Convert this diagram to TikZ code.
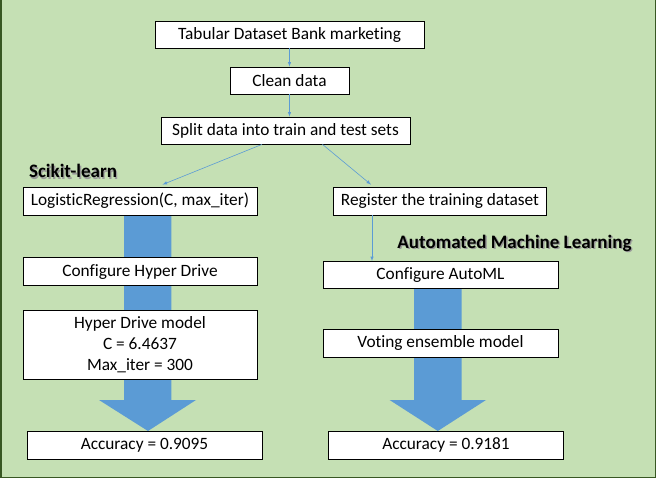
\documentclass[tikz,border=0pt]{standalone}
\usepackage{fontspec}
\setmainfont{Carlito}[Ligatures=NoCommon]
\usetikzlibrary{backgrounds}
\definecolor{bggreen}{HTML}{C5E0B4}
\definecolor{framegreen}{HTML}{385723}
\definecolor{flowblue}{HTML}{5B9BD5}
\newcommand\shadowed[1]{\rlap{\hspace{1.4pt}\raisebox{-1.4pt}{\color{black!40}#1}}#1}

\begin{document}
\begin{tikzpicture}[x=1pt,y=-1pt,
    box/.style={draw,fill=white,line width=0.8pt,inner sep=2pt,minimum height=28pt,
      font=\fontsize{17.3}{21}\selectfont,align=center},
    head/.style={font=\fontsize{19}{22}\selectfont\bfseries},
    flow/.style={flowblue,line width=0.6pt,-latex},
    bigarrow/.style={fill=flowblue}]
    \useasboundingbox (0,0) rectangle (657,479);
    % boxes
    \node[box,minimum width=269pt,minimum height=27pt] (tab) at (289.5,34.5) {Tabular Dataset Bank marketing};
    \node[box,minimum width=119pt,minimum height=27pt] (clean) at (289.5,80.5) {Clean data};
    \node[box,minimum width=249pt,minimum height=27pt] (split) at (285.5,130.5) {Split data into train and test sets};
    \node[box,minimum width=234pt] (lr) at (140,201) {LogisticRegression(C, max\_iter)};
    \node[box,minimum width=213.5pt] (reg) at (440,201) {Register the training dataset};
    \node[box,minimum width=234pt] (hdconf) at (140,271.6) {Configure Hyper Drive};
    \node[box,minimum width=234pt,minimum height=69pt] (hdmodel) at (140,344.5) {Hyper Drive model\\C = 6.4637\\Max\_iter = 300};
    \node[box,minimum width=235pt] (accl) at (144.5,445) {Accuracy = 0.9095};
    \node[box,minimum width=235pt,minimum height=27pt] (amlconf) at (440.5,275) {Configure AutoML};
    \node[box,minimum width=235pt] (vote) at (440.5,343) {Voting ensemble model};
    \node[box,minimum width=234.5pt] (accr) at (446,445) {Accuracy = 0.9181};
    % labels
    \node[head] (sk) at (73,172) {\shadowed{Scikit-learn}};
    \node[head] (aml) at (514.5,244) {\shadowed{Automated Machine Learning}};
    % connectors
    \draw[flow] (tab) -- (clean);
    \draw[flow] (clean.south) -- (clean.south |- split.north);
    \draw[flow] ([xshift=-23.5pt]split.south) -- ([xshift=22.5pt,yshift=2pt]lr.north);
    \draw[flow] ([xshift=37pt]split.south) -- ([xshift=-69pt,yshift=2pt]reg.north);
    \draw[flow] ([xshift=-68pt]reg.south) -- ([xshift=-68.5pt]amlconf.north);
    \begin{scope}[on background layer]
        \draw[fill=bggreen,draw=framegreen,line width=1.6pt] (0.8,-5) rectangle (655.5,477.6);
        \fill[bigarrow] (124,215) -- (171.4,215) -- (171.4,400) -- (196,400) -- (148,431) -- (99,400) -- (124,400) -- cycle;
        \fill[bigarrow] (414,289) -- (461.7,289) -- (461.7,400) -- (486,400) -- (437.8,431) -- (389.6,400) -- (414,400) -- cycle;
    \end{scope}
\end{tikzpicture}
\end{document}
